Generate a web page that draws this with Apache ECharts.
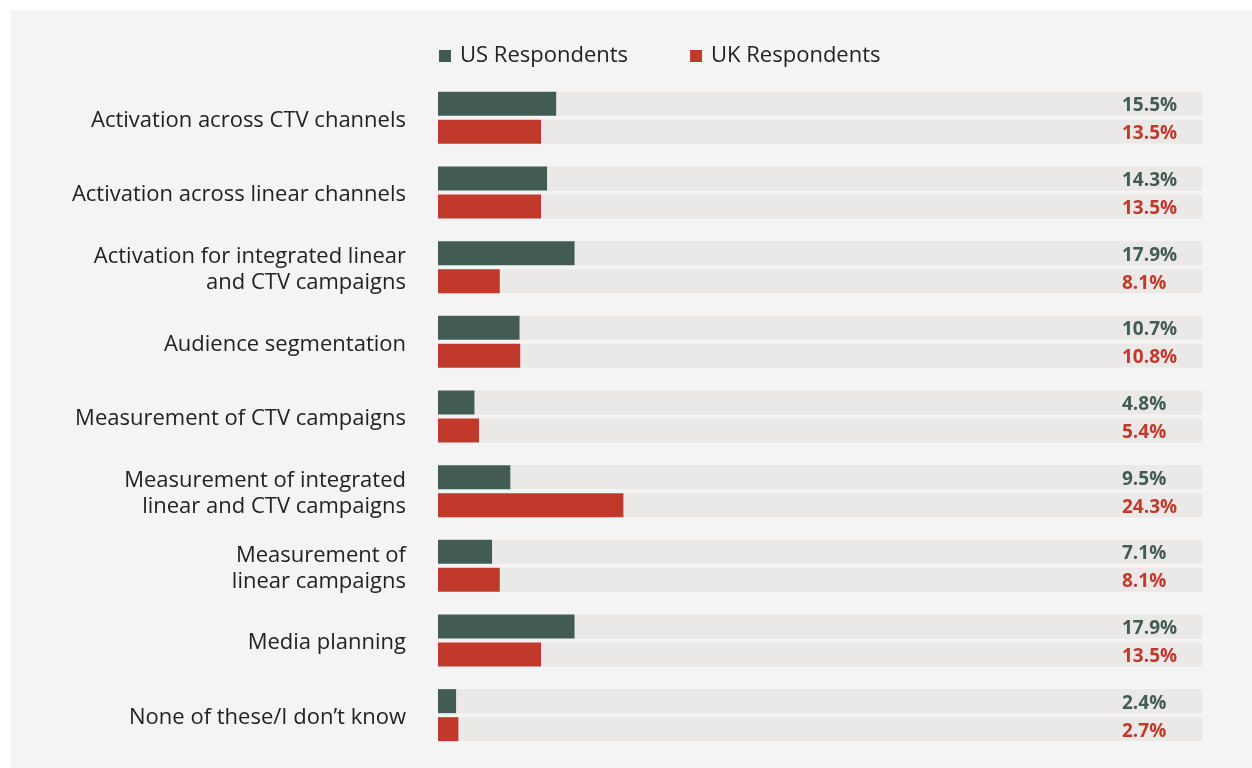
<!DOCTYPE html>
<html>
<head>
<meta charset="utf-8">
<script src="https://cdn.jsdelivr.net/npm/echarts@6/dist/echarts.min.js"></script>
<style>
  html, body { margin: 0; padding: 0; background: #ffffff; }
  #panel { position: absolute; left: 11px; top: 10px; width: 1241px; height: 758px; background: #f4f4f4; }
  #chart { position: absolute; left: 0; top: 0; width: 1252px; height: 768px; }
</style>
</head>
<body>
<div id="panel"></div>
<div id="chart"></div>
<script>
const categories = [
  'Activation across CTV channels',
  'Activation across linear channels',
  'Activation for integrated linear\nand CTV campaigns',
  'Audience segmentation',
  'Measurement of CTV campaigns',
  'Measurement of integrated\nlinear and CTV campaigns',
  'Measurement of\nlinear campaigns',
  'Media planning',
  'None of these/I don\u2019t know'
];
const usValues = [15.5, 14.3, 17.9, 10.7, 4.8, 9.5, 7.1, 17.9, 2.4];
const ukValues = [13.5, 13.5, 8.1, 10.8, 5.4, 24.3, 8.1, 13.5, 2.7];
const scaleMax = 100;

const US_COLOR = '#435c53';
const UK_COLOR = '#c0392b';
const TRACK = '#ebe9e7';
const FONT = '"Open Sans", "Noto Sans", sans-serif';

// remainder of each bar up to the full scale, drawn as the grey track
const rest = arr => arr.map(v => +(scaleMax - v).toFixed(2));

function valueLabel(color, values) {
  return {
    show: true,
    position: 'insideRight',
    distance: 80,
    align: 'left',
    offset: [0, 2],
    color: color,
    fontFamily: FONT,
    fontWeight: 'bold',
    fontSize: 19,
    formatter: p => values[p.dataIndex].toFixed(1) + '%'
  };
}

const chart = echarts.init(document.getElementById('chart'), null, { renderer: 'canvas' });
chart.setOption({
  backgroundColor: 'transparent',
  animation: false,
  legend: {
    data: ['US Respondents', 'UK Respondents'],
    left: 439,
    top: 45,
    padding: 0,
    itemWidth: 12,
    itemHeight: 12,
    itemGap: 62,
    icon: 'rect',
    textStyle: { fontFamily: FONT, fontSize: 22, color: '#222222', padding: [0, 0, 0, 4] }
  },
  grid: { left: 438, right: 50, top: 80.5, height: 672, containLabel: false },
  xAxis: {
    type: 'value', min: 0, max: scaleMax,
    show: false
  },
  yAxis: {
    type: 'category',
    data: categories,
    inverse: true,
    axisLine: { show: false },
    axisTick: { show: false },
    splitLine: { show: false },
    axisLabel: {
      margin: 32,
      align: 'right',
      formatter: v => v.split('\n').map(line => '{t|' + line + '}').join('\n'),
      rich: {
        t: {
          fontFamily: FONT,
          fontSize: 22,
          lineHeight: 26,
          color: '#222222',
          padding: [5, 0, 0, 0]
        }
      }
    }
  },
  series: [
    {
      name: 'US Respondents', type: 'bar', stack: 'us',
      data: usValues, barWidth: 24, barGap: '16.7%',
      itemStyle: { color: US_COLOR }
    },
    {
      name: 'US track', type: 'bar', stack: 'us',
      data: rest(usValues), barWidth: 24, barGap: '16.7%',
      itemStyle: { color: TRACK },
      label: valueLabel(US_COLOR, usValues),
      silent: true
    },
    {
      name: 'UK Respondents', type: 'bar', stack: 'uk',
      data: ukValues, barWidth: 24, barGap: '16.7%',
      itemStyle: { color: UK_COLOR }
    },
    {
      name: 'UK track', type: 'bar', stack: 'uk',
      data: rest(ukValues), barWidth: 24, barGap: '16.7%',
      itemStyle: { color: TRACK },
      label: valueLabel(UK_COLOR, ukValues),
      silent: true
    }
  ]
});
</script>
</body>
</html>
